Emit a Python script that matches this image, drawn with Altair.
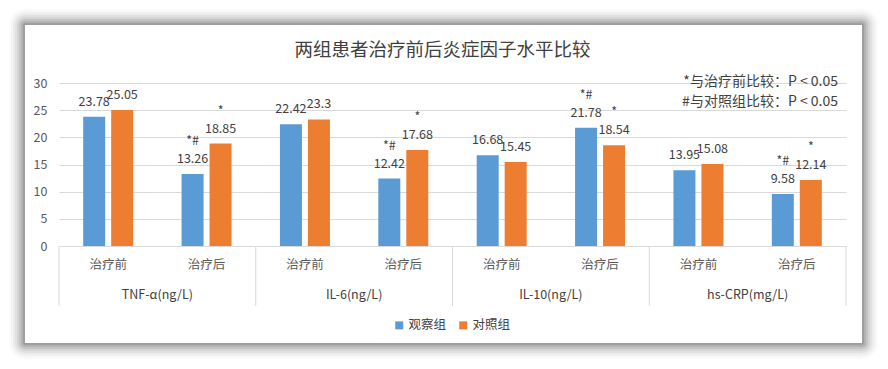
import altair as alt
import pandas as pd

groups = ["TNF-α(ng/L)", "IL-6(ng/L)", "IL-10(ng/L)", "hs-CRP(mg/L)"]
phases = ["治疗前", "治疗后"]
series = ["观察组", "对照组"]
obs_values = [23.78, 13.26, 22.42, 12.42, 16.68, 21.78, 13.95, 9.58]
ctl_values = [25.05, 18.85, 23.3, 17.68, 15.45, 18.54, 15.08, 12.14]
obs_marks = ["", "*#", "", "*#", "", "*#", "", "*#"]
ctl_marks = ["", "*", "", "*", "", "*", "", "*"]
colors = ["#5B9BD5", "#ED7D31"]
title_text = "两组患者治疗前后炎症因子水平比较"
notes = ["*与治疗前比较：P < 0.05", "#与对照组比较：P < 0.05"]
y_ticks = [0, 5, 10, 15, 20, 25, 30]

FONT = "Noto Sans CJK SC"
W, H = 787, 163

rows = []
keys = []
for gi, g in enumerate(groups):
    for pi, p in enumerate(phases):
        k = f"{g}|{p}"
        keys.append(k)
        idx = gi * 2 + pi
        for s, vals, marks in ((series[0], obs_values, obs_marks),
                               (series[1], ctl_values, ctl_marks)):
            rows.append({"key": k, "group": g, "phase": p, "series": s,
                         "value": vals[idx], "label": f"{vals[idx]:g}",
                         "mark": marks[idx]})
df = pd.DataFrame(rows)
df_groups = pd.DataFrame({"key": [f"{g}|{phases[0]}" for g in groups], "group": groups})
df_last = pd.DataFrame({"key": [keys[-1]]})
one = pd.DataFrame({"k": [0]})

x_axis = alt.Axis(title=None, labelExpr="split(datum.label, '|')[1]", labelAngle=0,
                  ticks=False, domainColor="#d9d9d9", labelPadding=12,
                  labelFontSize=12.5, labelColor="#595959", labelFont=FONT)
x_scale = alt.Scale(paddingInner=0, paddingOuter=0)
x_enc = alt.X("key:N", sort=keys, scale=x_scale, axis=x_axis)
xo = alt.XOffset("series:N", sort=series,
                 scale=alt.Scale(paddingInner=0.214, paddingOuter=0.864))
y_axis = alt.Axis(title=None, values=y_ticks, grid=True, gridColor="#d9d9d9",
                  domain=False, ticks=False, labelPadding=12, labelOverlap=False,
                  labelColor="#595959", labelFontSize=12.5, labelFont=FONT)
y_enc = alt.Y("value:Q", scale=alt.Scale(domain=[0, 30]), axis=y_axis)

# soft shadow around the chart panel (rings only, panel stays transparent)
L, T, R, B = -34, -58, 803, 260
layers = []
for i, d in enumerate(range(1, 18, 2)):
    op = 0.38 * (1 - i / 9) ** 2
    layers.append(alt.Chart(one).mark_rect(fill=None, stroke="black", strokeWidth=2,
                                           strokeOpacity=op, cornerRadius=d).encode(
        x=alt.value(L - d), x2=alt.value(R + d), y=alt.value(T - d), y2=alt.value(B + d)))

bars = alt.Chart(df).mark_bar().encode(
    x=x_enc, xOffset=xo, y=y_enc,
    color=alt.Color("series:N", sort=series,
                    scale=alt.Scale(domain=series, range=colors),
                    legend=alt.Legend(title=None, orient="none", legendX=334, legendY=236,
                                      direction="horizontal", symbolType="square",
                                      symbolSize=64, symbolStrokeWidth=0, labelFontSize=12.5,
                                      labelFont=FONT, labelColor="#404040", labelOffset=3,
                                      columnPadding=10, padding=0)))

value_labels = alt.Chart(df).mark_text(baseline="bottom", dy=-8, fontSize=12.5, font=FONT,
                                       color="#404040").encode(
    x=x_enc, xOffset=xo, y=y_enc, text="label:N")

mark_labels = alt.Chart(df).mark_text(baseline="bottom", dy=-26, fontSize=12.5, font=FONT,
                                      color="#404040").encode(
    x=x_enc, xOffset=xo, y=y_enc, text="mark:N")

group_labels = alt.Chart(df_groups).mark_text(baseline="middle", fontSize=12.5, font=FONT,
                                              color="#404040").encode(
    x=alt.X("key:N", sort=keys, scale=x_scale, axis=x_axis, bandPosition=1),
    y=alt.value(H + 49), text="group:N")

dividers = alt.Chart(df_groups).mark_rule(color="#d9d9d9").encode(
    x=alt.X("key:N", sort=keys, scale=x_scale, axis=x_axis, bandPosition=0),
    y=alt.value(H), y2=alt.value(H + 60))
divider_last = alt.Chart(df_last).mark_rule(color="#d9d9d9").encode(
    x=alt.X("key:N", sort=keys, scale=x_scale, axis=x_axis, bandPosition=1),
    y=alt.value(H), y2=alt.value(H + 60))

note_text = alt.Chart(one).mark_text(text=notes, align="right", baseline="middle",
                                     lineHeight=20, fontSize=14, font=FONT,
                                     color="#404040").encode(
    x=alt.value(779), y=alt.value(-1))

title_mark = alt.Chart(one).mark_text(text=title_text, align="center", baseline="middle",
                                      fontSize=18.5, font=FONT, color="#404040").encode(
    x=alt.value(383.5), y=alt.value(-33))

layers += [bars, value_labels, mark_labels, dividers, divider_last, group_labels,
           note_text, title_mark]

chart = alt.layer(*layers).properties(
    width=W, height=H,
    autosize=alt.AutoSizeParams(type="none"),
    padding={"left": 51, "top": 75, "right": 34, "bottom": 115},
    background="white",
).configure_view(stroke=None)

chart.save("out.html", embed_options={"renderer": "svg", "actions": False})
